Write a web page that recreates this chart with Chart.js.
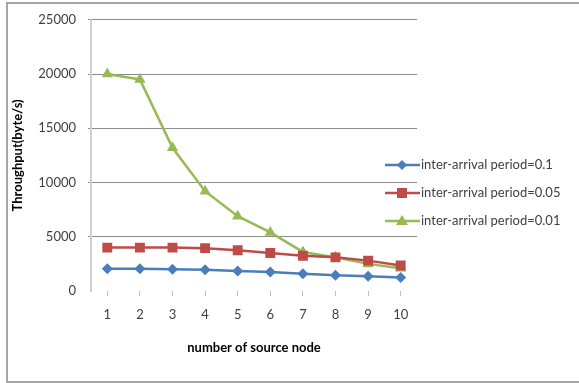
<!DOCTYPE html>
<html>
<head>
<meta charset="utf-8">
<script src="https://cdn.jsdelivr.net/npm/chart.js@4/dist/chart.umd.min.js"></script>
<style>
  html, body { margin: 0; padding: 0; background: #fff; }
  #wrap { position: relative; width: 579px; height: 383px; }
  #frame { position: absolute; left: 6px; top: 2px; width: 600px; height: 377px;
           border: 2px solid #a6a6a6; border-right: none; }
  canvas { position: absolute; left: 0; top: 0; }
</style>
</head>
<body>
<div id="wrap">
  <div id="frame"></div>
  <canvas id="chart" width="579" height="383"></canvas>
</div>
<script>
const nodes = ['1', '2', '3', '4', '5', '6', '7', '8', '9', '10'];
const period01 = [2050, 2050, 2000, 1950, 1850, 1750, 1600, 1450, 1350, 1250];
const period005 = [4000, 4000, 4000, 3950, 3750, 3500, 3250, 3100, 2800, 2350];
const period001 = [20000, 19500, 13200, 9200, 6900, 5400, 3600, 3100, 2500, 2100];
const seriesNames = ['inter-arrival period=0.1', 'inter-arrival period=0.05', 'inter-arrival period=0.01'];

const blue = '#4a7ebb', red = '#be4b48', green = '#98b954';
const textColor = '#404040';
const fontFamily = 'Lato, "Liberation Sans", sans-serif';

// legend drawn like the spreadsheet one: short line with marker, then text
const sideLegend = {
  id: 'sideLegend',
  afterDraw(chart) {
    const ctx = chart.ctx;
    const rows = [165, 193, 221];
    chart.data.datasets.forEach((ds, i) => {
      const y = rows[i];
      ctx.save();
      ctx.strokeStyle = ds.borderColor;
      ctx.lineWidth = 2.5;
      ctx.beginPath();
      ctx.moveTo(385, y);
      ctx.lineTo(420, y);
      ctx.stroke();
      ctx.fillStyle = ds.backgroundColor;
      ctx.beginPath();
      if (ds.pointStyle === 'rectRot') {
        ctx.moveTo(402, y - 5); ctx.lineTo(407, y); ctx.lineTo(402, y + 5); ctx.lineTo(397, y);
      } else if (ds.pointStyle === 'rect') {
        ctx.rect(397, y - 5, 10, 10);
      } else {
        ctx.moveTo(402, y - 6); ctx.lineTo(408, y + 4); ctx.lineTo(396, y + 4);
      }
      ctx.closePath();
      ctx.fill();
      ctx.fillStyle = textColor;
      ctx.font = '13px ' + fontFamily;
      ctx.textBaseline = 'middle';
      ctx.fillText(ds.label, 421, y);
      ctx.restore();
    });
  }
};

new Chart(document.getElementById('chart'), {
  type: 'line',
  data: {
    labels: nodes,
    datasets: [{
      label: seriesNames[0],
      data: period01,
      borderColor: blue,
      backgroundColor: blue,
      borderWidth: 2.5,
      pointStyle: 'rectRot',
      pointRadius: 5.5,
      pointBorderWidth: 0
    }, {
      label: seriesNames[1],
      data: period005,
      borderColor: red,
      backgroundColor: red,
      borderWidth: 2.5,
      pointStyle: 'rect',
      pointRadius: 7,
      pointBorderWidth: 0
    }, {
      label: seriesNames[2],
      data: period001,
      borderColor: green,
      backgroundColor: green,
      borderWidth: 2.5,
      pointStyle: 'triangle',
      pointRadius: 6.5,
      pointBorderWidth: 0
    }]
  },
  options: {
    responsive: false,
    animation: false,
    layout: { padding: { left: 0, top: 15, right: 162, bottom: 0 } },
    plugins: { legend: { display: false }, tooltip: { enabled: false } },
    scales: {
      x: {
        offset: true,
        border: { display: false },
        grid: { drawOnChartArea: false, color: '#bfbfbf', tickLength: 5 },
        ticks: { color: textColor, font: { family: fontFamily, size: 13 }, padding: 11 },
        title: {
          display: true, text: 'number of source node', color: '#000',
          font: { family: fontFamily, size: 13, weight: 'bold' },
          padding: { top: 0, bottom: 27 }
        },
        afterFit: s => { s.height = 92; }
      },
      y: {
        min: 0, max: 25000,
        border: { display: true, color: '#d0d0d0', width: 2 },
        grid: {
          color: c => c.tick.value === 0 ? 'rgba(0,0,0,0)' : '#8c8c8c',
          tickLength: 3
        },
        ticks: {
          stepSize: 5000, color: textColor, font: { family: fontFamily, size: 13 }, padding: 12,
          callback: v => String(v)
        },
        title: {
          display: true, text: 'Throughput(byte/s)', color: '#000',
          font: { family: fontFamily, size: 13, weight: 'bold' },
          padding: { top: 10, bottom: 0 }
        },
        afterFit: s => { s.width = 91; }
      }
    }
  },
  plugins: [sideLegend]
});
</script>
</body>
</html>
